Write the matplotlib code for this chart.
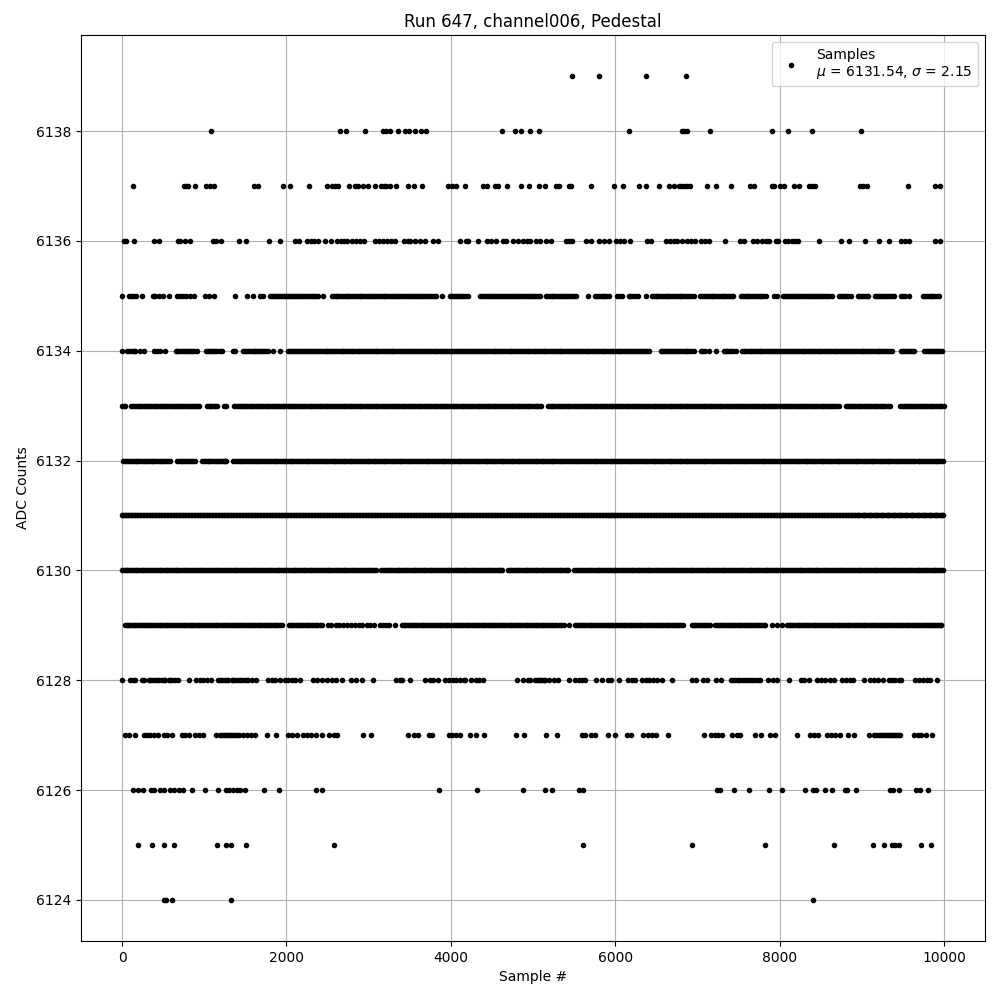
import matplotlib
matplotlib.use('Agg')
import matplotlib.pyplot as plt

# sample numbers, one list per ADC level
s6124 = [506, 538, 603, 1331, 8402]
s6125 = [190, 360, 506, 627, 1149, 1262, 1331, 1513, 2581, 5607, 6932, 7818, 8657, 9131, 9265, 9370, 9410, 9451, 9726, 9848]
s6126 = [129, 190, 255, 352, 392, 465, 506, 586, 627, 688, 740, 845, 1003, 1165, 1266, 1306, 1347, 1395, 1436, 1497,
         1731, 1913, 2358, 2427, 3855, 4316, 4874, 5150, 5231, 5563, 5607, 7235, 7276, 7442, 7624, 7871, 8025, 8304,
         8410, 8438, 8552, 8633, 8795, 8823, 8924, 9341, 9382, 9447, 9665, 9706, 9811]
s6127 = [40, 81, 162, 263, 303, 344, 384, 433, 505, 546, 607, 728, 769, 809, 890, 930, 983, 1145, 1193, 1242, 1282,
         1323, 1375, 1428, 1477, 1517, 1565, 1618, 1768, 1873, 2022, 2063, 2124, 2205, 2245, 2294, 2358, 2427, 2520,
         2581, 2617, 2933, 3030, 3479, 3548, 3600, 3730, 3774, 3976, 4017, 4057, 4106, 4231, 4312, 4401, 4793, 4886,
         5162, 5291, 5595, 5635, 5708, 5757, 5911, 5996, 6146, 6194, 6336, 6397, 6445, 6494, 6640, 7077, 7166, 7215,
         7255, 7304, 7426, 7478, 7519, 7701, 7770, 7879, 7944, 8207, 8365, 8422, 8470, 8580, 8624, 8673, 8734, 8827,
         8904, 9082, 9147, 9208, 9260, 9301, 9341, 9382, 9422, 9463, 9633, 9686, 9726, 9787, 9852,
         1212, 1262, 1302, 1345, 1402, 9168, 9235, 9280, 9321, 9362, 9402, 9443]
s6128 = [4, 101, 129, 162, 243, 271, 324, 364, 404, 445, 485, 526, 566, 607, 647, 680, 809, 902, 942, 983, 1031, 1080,
         1173, 1213, 1254, 1294, 1335, 1375, 1416, 1456, 1497, 1537, 1578, 1630, 1780, 1820, 1861, 1921, 1982, 2022,
         2063, 2103, 2164, 2326, 2366, 2427, 2496, 2548, 2601, 2670, 2791, 2852, 2920, 3054, 3337, 3378, 3410, 3503,
         3689, 3742, 3782, 3847, 3932, 3972, 4025, 4065, 4106, 4154, 4178, 4247, 4300, 4348, 4389, 4801, 4874, 4935,
         4967, 5028, 5068, 5109, 5150, 5190, 5251, 5303, 5441, 5514, 5554, 5595, 5627, 5769, 5842, 5911, 5951, 6049,
         6154, 6203, 6243, 6324, 6373, 6413, 6454, 6506, 6567, 6689, 6932, 6984, 7073, 7122, 7223, 7288, 7405, 7458,
         7519, 7580, 7640, 7701, 7762, 7855, 7924, 7964, 8110, 8260, 8300, 8357, 8450, 8503, 8552, 8612, 8665, 8754,
         8803, 8855, 8896, 9025, 9098, 9151, 9192, 9252, 9329, 9370, 9410, 9451, 9483, 9645, 9694, 9746, 9795, 9827, 9917,
         344, 425, 505, 586, 1193, 1274, 1355, 1436, 1517, 5048, 5089, 5130, 7430, 7490, 7550, 7610, 7670, 7731]
s6129 = [40, 75, 118, 160, 204, 247, 291, 333, 378, 420, 466, 509, 551, 596, 638, 683, 725, 770, 812, 856, 900, 941,
         987, 1029, 1074, 1116, 1160, 1203, 1247, 1290, 1333, 1378, 1420, 1464, 1507, 1551, 1595, 1637, 1682, 1724,
         1768, 1811, 1855, 1898, 1942, 2030, 2072, 2116, 2159, 2203, 2246, 2290, 2333, 2377, 2435, 2500, 2547, 2598,
         2641, 2692, 2741, 2790, 2835, 2880, 2925, 2978, 3020, 3070, 3135, 3178, 3212, 3244, 3317, 3406, 3448, 3492,
         3535, 3579, 3622, 3666, 3709, 3753, 3796, 3840, 3883, 3927, 3970, 4014, 4057, 4105, 4148, 4192, 4235, 4279,
         4322, 4366, 4409, 4453, 4496, 4540, 4583, 4627, 4670, 4714, 4757, 4801, 4844, 4888, 4931, 4975, 5018, 5062,
         5105, 5149, 5192, 5236, 5279, 5340, 5372, 5441, 5514, 5558, 5601, 5645, 5688, 5732, 5775, 5819, 5862, 5906,
         5949, 5993, 6036, 6080, 6123, 6167, 6210, 6254, 6297, 6341, 6384, 6428, 6471, 6515, 6558, 6602, 6645, 6689,
         6732, 6776, 6826, 6931, 6975, 7018, 7062, 7105, 7149, 7215, 7262, 7305, 7349, 7392, 7436, 7479, 7523, 7566,
         7610, 7653, 7697, 7740, 7784, 7827, 7903, 7964, 8025, 8088, 8131, 8175, 8218, 8262, 8305, 8349, 8392, 8436,
         8479, 8523, 8566, 8610, 8653, 8697, 8740, 8784, 8827, 8871, 8914, 8958, 9001, 9045, 9088, 9132, 9175, 9219,
         9262, 9306, 9349, 9393, 9436, 9480, 9523, 9567, 9610, 9654, 9697, 9741, 9784, 9828, 9871, 9915, 9958, 9969]
d6129 = [58, 97, 139, 182, 225, 269, 312, 356, 399, 443, 488, 530, 574, 617, 660, 704, 748, 791, 834, 878, 921, 964,
         1008, 1051, 1095, 1138, 1182, 1225, 1268, 1312, 1356, 1399, 1442, 1486, 1529, 1573, 1616, 1660, 1703, 1746,
         1790, 1833, 1877, 1920, 2051, 2094, 2138, 2181, 2225, 2268, 2312, 2355, 2406, 3427, 3470, 3514, 3557, 3601,
         3644, 3688, 3731, 3775, 3818, 3862, 3905, 3949, 3992, 4036, 4081, 4127, 4170, 4214, 4257, 4301, 4344, 4388,
         4431, 4475, 4518, 4562, 4605, 4649, 4692, 4736, 4779, 4823, 4866, 4910, 4953, 4997, 5040, 5084, 5127, 5171,
         5214, 5258, 5310, 5536, 5580, 5623, 5667, 5710, 5754, 5797, 5841, 5884, 5928, 5971, 6015, 6058, 6102, 6145,
         6189, 6232, 6276, 6319, 6363, 6406, 6450, 6493, 6537, 6580, 6624, 6667, 6711, 6754, 6800, 6953, 6997, 7040,
         7084, 7127, 7240, 7284, 7327, 7371, 7414, 7458, 7501, 7545, 7588, 7632, 7675, 7719, 7762, 7806, 8110, 8153,
         8197, 8240, 8284, 8327, 8371, 8414, 8458, 8501, 8545, 8588, 8632, 8675, 8719, 8762, 8806, 8849, 8893, 8936,
         8980, 9023, 9067, 9110, 9154, 9197, 9241, 9284, 9328, 9371, 9415, 9458, 9502, 9545, 9589, 9632, 9676, 9719,
         9763, 9806, 9850, 9893, 9937]
s6130 = [0, 42, 86, 129, 173, 216, 260, 303, 347, 390, 434, 477, 521, 564, 608, 651, 695, 738, 782, 825, 869, 912,
         956, 999, 1043, 1086, 1130, 1173, 1217, 1260, 1304, 1347, 1391, 1434, 1478, 1521, 1565, 1608, 1652, 1695,
         1739, 1782, 1826, 1869, 1913, 1956, 2000, 2043, 2087, 2130, 2174, 2217, 2261, 2304, 2348, 2391, 2435, 2478,
         2522, 2565, 2609, 2652, 2696, 2739, 2783, 2826, 2870, 2913, 2957, 3000, 3044, 3094, 3155, 3199, 3242, 3286,
         3329, 3373, 3416, 3460, 3503, 3547, 3590, 3634, 3677, 3721, 3764, 3808, 3851, 3895, 3938, 3982, 4025, 4069,
         4112, 4156, 4199, 4243, 4286, 4330, 4373, 4417, 4460, 4504, 4547, 4591, 4619, 4692, 4736, 4779, 4823, 4866,
         4910, 4953, 4997, 5040, 5084, 5127, 5171, 5214, 5258, 5301, 5345, 5388, 5425, 5502, 5546, 5589, 5633, 5676,
         5720, 5763, 5807, 5850, 5894, 5937, 5981, 6024, 6068, 6111, 6155, 6198, 6242, 6285, 6329, 6372, 6416, 6459,
         6503, 6546, 6590, 6633, 6677, 6720, 6764, 6807, 6851, 6894, 6938, 6981, 7025, 7068, 7112, 7155, 7199, 7242,
         7286, 7329, 7373, 7416, 7460, 7503, 7547, 7590, 7634, 7677, 7721, 7764, 7808, 7851, 7895, 7938, 7982, 8025,
         8069, 8112, 8156, 8199, 8243, 8286, 8330, 8373, 8417, 8460, 8504, 8547, 8591, 8634, 8678, 8721, 8765, 8808,
         8852, 8895, 8939, 8982, 9026, 9069, 9113, 9156, 9200, 9243, 9287, 9330, 9374, 9417, 9461, 9504, 9548, 9591,
         9635, 9678, 9722, 9765, 9809, 9852, 9896, 9939, 9983]
d6130 = [21, 64, 108, 151, 195, 238, 282, 325, 369, 412, 456, 499, 543, 586, 630, 673, 717, 760, 804, 847, 891, 934,
         978, 1021, 1065, 1108, 1152, 1195, 1239, 1282, 1326, 1369, 1413, 1456, 1500, 1543, 1587, 1630, 1674, 1717,
         1761, 1804, 1848, 1891, 1935, 1978, 2022, 2065, 2109, 2152, 2196, 2239, 2283, 2326, 2370, 2413, 2457, 2500,
         2544, 2587, 2631, 2674, 2718, 2761, 2805, 2848, 2892, 2935, 2979, 3022, 3070, 3177, 3221, 3264, 3308, 3351,
         3395, 3438, 3482, 3525, 3569, 3612, 3656, 3699, 3743, 3786, 3830, 3873, 3917, 3960, 4004, 4047, 4091, 4134,
         4178, 4221, 4265, 4308, 4352, 4395, 4439, 4482, 4526, 4569, 4606, 4714, 4758, 4801, 4845, 4888, 4932, 4975,
         5019, 5062, 5106, 5149, 5193, 5236, 5280, 5323, 5367, 5408, 5524, 5568, 5611, 5655, 5698, 5742, 5785, 5829,
         5872, 5916, 5959, 6003, 6046, 6090, 6133, 6177, 6220, 6264, 6307, 6351, 6394, 6438, 6481, 6525, 6568, 6612,
         6655, 6699, 6742, 6786, 6829, 6873, 6916, 6960, 7003, 7047, 7090, 7134, 7177, 7221, 7264, 7308, 7351, 7395,
         7438, 7482, 7525, 7569, 7612, 7656, 7699, 7743, 7786, 7830, 7873, 7917, 7960, 8004, 8047, 8091, 8134, 8178,
         8221, 8265, 8308, 8352, 8395, 8439, 8482, 8526, 8569, 8613, 8656, 8700, 8743, 8787, 8830, 8874, 8917, 8961,
         9004, 9048, 9091, 9135, 9178, 9222, 9265, 9309, 9352, 9396, 9439, 9483, 9526, 9570, 9613, 9657, 9700, 9744,
         9787, 9831, 9874, 9918, 9961]
s6131 = [0, 31, 66, 103, 139, 176, 212, 249, 285, 322, 358, 395, 431, 468, 504, 541, 577, 614, 650, 687, 723, 760,
         796, 833, 869, 906, 942, 979, 1015, 1052, 1088, 1125, 1161, 1198, 1234, 1271, 1307, 1344, 1380, 1417, 1453,
         1490, 1526, 1563, 1599, 1636, 1672, 1709, 1745, 1782, 1818, 1855, 1891, 1928, 1964, 2001, 2037, 2074, 2110,
         2147, 2183, 2220, 2256, 2293, 2329, 2366, 2402, 2439, 2475, 2512, 2548, 2585, 2621, 2658, 2694, 2731, 2767,
         2804, 2840, 2877, 2913, 2950, 2986, 3023, 3059, 3096, 3132, 3169, 3205, 3242, 3278, 3315, 3351, 3388, 3424,
         3461, 3497, 3534, 3570, 3607, 3643, 3680, 3716, 3753, 3789, 3826, 3862, 3899, 3935, 3972, 4008, 4045, 4081,
         4118, 4154, 4191, 4227, 4264, 4300, 4337, 4373, 4410, 4446, 4483, 4519, 4556, 4592, 4629, 4665, 4702, 4738,
         4775, 4811, 4848, 4884, 4921, 4957, 4994, 5030, 5067, 5103, 5140, 5176, 5213, 5249, 5286, 5322, 5359, 5395,
         5432, 5468, 5505, 5541, 5578, 5614, 5651, 5687, 5724, 5760, 5797, 5833, 5870, 5906, 5943, 5979, 6016, 6052,
         6089, 6125, 6162, 6198, 6235, 6271, 6308, 6344, 6381, 6417, 6454, 6490, 6527, 6563, 6600, 6636, 6673, 6709,
         6746, 6782, 6819, 6855, 6892, 6928, 6965, 7001, 7038, 7074, 7111, 7147, 7184, 7220, 7257, 7293, 7330, 7366,
         7403, 7439, 7476, 7512, 7549, 7585, 7622, 7658, 7695, 7731, 7768, 7804, 7841, 7877, 7914, 7950, 7987, 8023,
         8060, 8096, 8133, 8169, 8206, 8242, 8279, 8315, 8352, 8388, 8425, 8461, 8498, 8534, 8571, 8607, 8644, 8680,
         8717, 8753, 8790, 8826, 8863, 8899, 8936, 8972, 9009, 9045, 9082, 9118, 9155, 9191, 9228, 9264, 9301, 9337,
         9374, 9410, 9447, 9483, 9520, 9556, 9593, 9629, 9666, 9702, 9739, 9775, 9812, 9848, 9885, 9921, 9958, 9985]
d6131 = [15, 48, 85, 121, 158, 194, 231, 267, 304, 340, 377, 413, 450, 486, 523, 559, 596, 632, 669, 705, 742, 778,
         815, 851, 888, 924, 961, 997, 1034, 1070, 1107, 1143, 1180, 1216, 1253, 1289, 1326, 1362, 1399, 1435, 1472,
         1508, 1545, 1581, 1618, 1654, 1691, 1727, 1764, 1800, 1837, 1873, 1910, 1946, 1983, 2019, 2056, 2092, 2129,
         2165, 2202, 2238, 2275, 2311, 2348, 2384, 2421, 2457, 2494, 2530, 2567, 2603, 2640, 2676, 2713, 2749, 2786,
         2822, 2859, 2895, 2932, 2968, 3005, 3041, 3078, 3114, 3151, 3187, 3224, 3260, 3297, 3333, 3370, 3406, 3443,
         3479, 3516, 3552, 3589, 3625, 3662, 3698, 3735, 3771, 3808, 3844, 3881, 3917, 3954, 3990, 4027, 4063, 4100,
         4136, 4173, 4209, 4246, 4282, 4319, 4355, 4392, 4428, 4465, 4501, 4538, 4574, 4611, 4647, 4684, 4720, 4757,
         4793, 4830, 4866, 4903, 4939, 4976, 5012, 5049, 5085, 5122, 5158, 5195, 5231, 5268, 5304, 5341, 5377, 5414,
         5450, 5487, 5523, 5560, 5596, 5633, 5669, 5706, 5742, 5779, 5815, 5852, 5888, 5925, 5961, 5998, 6034, 6071,
         6107, 6144, 6180, 6217, 6253, 6290, 6326, 6363, 6399, 6436, 6472, 6509, 6545, 6582, 6618, 6655, 6691, 6728,
         6764, 6801, 6837, 6874, 6910, 6947, 6983, 7020, 7056, 7093, 7129, 7166, 7202, 7239, 7275, 7312, 7348, 7385,
         7421, 7458, 7494, 7531, 7567, 7604, 7640, 7677, 7713, 7750, 7786, 7823, 7859, 7896, 7932, 7969, 8005, 8042,
         8078, 8115, 8151, 8188, 8224, 8261, 8297, 8334, 8370, 8407, 8443, 8480, 8516, 8553, 8589, 8626, 8662, 8699,
         8735, 8772, 8808, 8845, 8881, 8918, 8954, 8991, 9027, 9064, 9100, 9137, 9173, 9210, 9246, 9283, 9319, 9356,
         9392, 9429, 9465, 9502, 9538, 9575, 9611, 9648, 9684, 9721, 9757, 9794, 9830, 9867, 9903, 9940, 9972]
s6132 = [12, 55, 99, 142, 186, 229, 273, 316, 360, 403, 447, 490, 534, 586, 667, 711, 754, 798, 841, 890, 975, 1019,
         1062, 1106, 1149, 1193, 1236, 1266, 1355, 1398, 1442, 1485, 1529, 1572, 1616, 1659, 1703, 1746, 1790, 1833,
         1877, 1920, 1964, 2007, 2051, 2094, 2138, 2181, 2225, 2268, 2312, 2355, 2399, 2442, 2486, 2529, 2573, 2616,
         2660, 2703, 2747, 2790, 2834, 2877, 2921, 2964, 3008, 3051, 3095, 3138, 3182, 3225, 3269, 3312, 3356, 3399,
         3443, 3486, 3530, 3573, 3617, 3660, 3704, 3747, 3791, 3834, 3878, 3921, 3965, 4008, 4052, 4095, 4139, 4182,
         4226, 4269, 4313, 4356, 4400, 4443, 4487, 4530, 4574, 4617, 4661, 4704, 4748, 4791, 4835, 4878, 4922, 4965,
         5009, 5052, 5096, 5139, 5183, 5226, 5270, 5313, 5357, 5400, 5444, 5487, 5531, 5574, 5618, 5661, 5705, 5748,
         5792, 5835, 5879, 5922, 5966, 6009, 6053, 6096, 6140, 6183, 6227, 6270, 6314, 6357, 6401, 6444, 6488, 6531,
         6575, 6618, 6662, 6705, 6749, 6792, 6836, 6879, 6923, 6966, 7010, 7053, 7097, 7140, 7184, 7227, 7271, 7314,
         7358, 7401, 7445, 7488, 7532, 7575, 7619, 7662, 7706, 7749, 7793, 7836, 7880, 7923, 7967, 8010, 8054, 8097,
         8141, 8184, 8228, 8271, 8315, 8358, 8402, 8445, 8489, 8532, 8576, 8619, 8663, 8706, 8750, 8793, 8837, 8880,
         8924, 8967, 9011, 9054, 9098, 9141, 9185, 9228, 9272, 9315, 9359, 9402, 9446, 9489, 9533, 9576, 9620, 9680,
         9724, 9767, 9811, 9854, 9898, 9941, 9985]
d6132 = [34, 77, 121, 164, 208, 251, 295, 338, 382, 425, 469, 512, 560, 689, 733, 776, 820, 866, 997, 1041, 1084, 1128,
         1171, 1215, 1250, 1377, 1420, 1464, 1507, 1551, 1594, 1638, 1681, 1725, 1768, 1812, 1855, 1899, 1942, 1986,
         2029, 2073, 2116, 2160, 2203, 2247, 2290, 2334, 2377, 2421, 2464, 2508, 2551, 2595, 2638, 2682, 2725, 2769,
         2812, 2856, 2899, 2943, 2986, 3030, 3073, 3117, 3160, 3204, 3247, 3291, 3334, 3378, 3421, 3465, 3508, 3552,
         3595, 3639, 3682, 3726, 3769, 3813, 3856, 3900, 3943, 3987, 4030, 4074, 4117, 4161, 4204, 4248, 4291, 4335,
         4378, 4422, 4465, 4509, 4552, 4596, 4639, 4683, 4726, 4770, 4813, 4857, 4900, 4944, 4987, 5031, 5074, 5118,
         5161, 5205, 5248, 5292, 5335, 5379, 5422, 5466, 5509, 5553, 5596, 5640, 5683, 5727, 5770, 5814, 5857, 5901,
         5944, 5988, 6031, 6075, 6118, 6162, 6205, 6249, 6292, 6336, 6379, 6423, 6466, 6510, 6553, 6597, 6640, 6684,
         6727, 6771, 6814, 6858, 6901, 6945, 6988, 7032, 7075, 7119, 7162, 7206, 7249, 7293, 7336, 7380, 7423, 7467,
         7510, 7554, 7597, 7641, 7684, 7728, 7771, 7815, 7858, 7902, 7945, 7989, 8032, 8076, 8119, 8163, 8206, 8250,
         8293, 8337, 8380, 8424, 8467, 8511, 8554, 8598, 8641, 8685, 8728, 8772, 8815, 8859, 8902, 8946, 8989, 9033,
         9076, 9120, 9163, 9207, 9250, 9294, 9337, 9381, 9424, 9468, 9511, 9555, 9598, 9650, 9702, 9746, 9789, 9833,
         9876, 9920, 9963]
s6133 = [0, 40, 113, 157, 200, 244, 287, 331, 374, 418, 461, 505, 548, 592, 635, 679, 722, 766, 809, 853, 896, 938,
         1031, 1075, 1118, 1153, 1234, 1266, 1367, 1411, 1454, 1498, 1541, 1585, 1628, 1672, 1715, 1759, 1802, 1846,
         1889, 1933, 1976, 2020, 2063, 2107, 2150, 2194, 2237, 2281, 2324, 2368, 2411, 2455, 2498, 2542, 2585, 2629,
         2672, 2716, 2759, 2803, 2846, 2890, 2933, 2977, 3020, 3064, 3107, 3151, 3194, 3238, 3281, 3325, 3368, 3412,
         3455, 3499, 3542, 3586, 3629, 3673, 3716, 3760, 3803, 3847, 3890, 3934, 3977, 4021, 4064, 4108, 4151, 4195,
         4238, 4282, 4325, 4369, 4412, 4456, 4499, 4543, 4586, 4630, 4673, 4717, 4760, 4804, 4847, 4891, 4934, 4978,
         5010, 5053, 5097, 5182, 5226, 5269, 5313, 5356, 5400, 5443, 5487, 5530, 5574, 5617, 5661, 5704, 5748, 5791,
         5835, 5878, 5922, 5965, 6009, 6052, 6096, 6139, 6183, 6226, 6270, 6313, 6357, 6400, 6444, 6487, 6531, 6574,
         6618, 6661, 6705, 6748, 6792, 6835, 6879, 6922, 6966, 7009, 7053, 7096, 7140, 7183, 7227, 7270, 7314, 7357,
         7401, 7444, 7488, 7531, 7575, 7618, 7662, 7705, 7749, 7792, 7836, 7879, 7923, 7966, 8010, 8053, 8097, 8140,
         8184, 8227, 8271, 8314, 8358, 8401, 8445, 8488, 8532, 8575, 8619, 8662, 8722, 8807, 8851, 8894, 8938, 8981,
         9025, 9068, 9112, 9155, 9199, 9242, 9286, 9349, 9467, 9511, 9554, 9598, 9641, 9685, 9728, 9772, 9815, 9859,
         9902, 9946, 9999]
d6133 = [20, 135, 179, 222, 266, 309, 353, 396, 440, 483, 527, 570, 614, 657, 701, 744, 788, 831, 875, 917, 1053, 1097,
         1135, 1389, 1433, 1476, 1520, 1563, 1607, 1650, 1694, 1737, 1781, 1824, 1868, 1911, 1955, 1998, 2042, 2085,
         2129, 2172, 2216, 2259, 2303, 2346, 2390, 2433, 2477, 2520, 2564, 2607, 2651, 2694, 2738, 2781, 2825, 2868,
         2912, 2955, 2999, 3042, 3086, 3129, 3173, 3216, 3260, 3303, 3347, 3390, 3434, 3477, 3521, 3564, 3608, 3651,
         3695, 3738, 3782, 3825, 3869, 3912, 3956, 3999, 4043, 4086, 4130, 4173, 4217, 4260, 4304, 4347, 4391, 4434,
         4478, 4521, 4565, 4608, 4652, 4695, 4739, 4782, 4826, 4869, 4913, 4956, 5032, 5075, 5204, 5248, 5291, 5335,
         5378, 5422, 5465, 5509, 5552, 5596, 5639, 5683, 5726, 5770, 5813, 5857, 5900, 5944, 5987, 6031, 6074, 6118,
         6161, 6205, 6248, 6292, 6335, 6379, 6422, 6466, 6509, 6553, 6596, 6640, 6683, 6727, 6770, 6814, 6857, 6901,
         6944, 6988, 7031, 7075, 7118, 7162, 7205, 7249, 7292, 7336, 7379, 7423, 7466, 7510, 7553, 7597, 7640, 7684,
         7727, 7771, 7814, 7858, 7901, 7945, 7988, 8032, 8075, 8119, 8162, 8206, 8249, 8293, 8336, 8380, 8423, 8467,
         8510, 8554, 8597, 8641, 8690, 8829, 8873, 8916, 8960, 9003, 9047, 9090, 9134, 9177, 9221, 9264, 9318, 9489,
         9533, 9576, 9620, 9663, 9707, 9750, 9794, 9837, 9881, 9924, 9968]
s6134 = [4, 61, 121, 162, 214, 263, 384, 425, 465, 518, 651, 695, 738, 782, 825, 869, 910, 1023, 1067, 1110, 1154,
         1190, 1218, 1355, 1375, 1468, 1512, 1555, 1599, 1642, 1686, 1729, 1773, 1832, 1925, 2018, 2062, 2105, 2149,
         2192, 2236, 2279, 2323, 2366, 2410, 2453, 2497, 2540, 2584, 2627, 2671, 2714, 2758, 2801, 2845, 2888, 2932,
         2975, 3019, 3062, 3106, 3149, 3193, 3236, 3280, 3323, 3367, 3410, 3454, 3497, 3541, 3584, 3628, 3671, 3715,
         3758, 3802, 3845, 3889, 3932, 3976, 4019, 4063, 4106, 4150, 4193, 4237, 4280, 4324, 4367, 4411, 4454, 4498,
         4541, 4585, 4628, 4672, 4715, 4759, 4802, 4846, 4889, 4933, 4976, 5020, 5063, 5107, 5150, 5194, 5237, 5281,
         5324, 5368, 5411, 5455, 5498, 5542, 5585, 5629, 5672, 5716, 5759, 5803, 5846, 5890, 5933, 5977, 6020, 6064,
         6107, 6151, 6194, 6238, 6281, 6325, 6368, 6413, 6551, 6595, 6638, 6682, 6725, 6769, 6812, 6856, 6899, 6960,
         7045, 7089, 7142, 7231, 7320, 7364, 7407, 7466, 7539, 7583, 7626, 7670, 7713, 7757, 7800, 7844, 7887, 7931,
         7974, 8018, 8061, 8105, 8148, 8192, 8235, 8279, 8322, 8366, 8409, 8453, 8496, 8540, 8583, 8627, 8670, 8714,
         8757, 8801, 8844, 8888, 8931, 8975, 9018, 9062, 9105, 9149, 9192, 9236, 9279, 9323, 9370, 9475, 9519, 9562,
         9606, 9637, 9758, 9802, 9845, 9889, 9932, 9977]
d6134 = [83, 145, 672, 716, 760, 804, 847, 1045, 1089, 1132, 1490, 1534, 1577, 1621, 1664, 1708, 1751, 2040, 2084,
         2127, 2171, 2214, 2258, 2301, 2345, 2388, 2432, 2475, 2519, 2562, 2606, 2649, 2693, 2736, 2780, 2823, 2867,
         2910, 2954, 2997, 3041, 3084, 3128, 3171, 3215, 3258, 3302, 3345, 3389, 3432, 3476, 3519, 3563, 3606, 3650,
         3693, 3737, 3780, 3824, 3867, 3911, 3954, 3998, 4041, 4085, 4128, 4172, 4215, 4259, 4302, 4346, 4389, 4433,
         4476, 4520, 4563, 4607, 4650, 4694, 4737, 4781, 4824, 4868, 4911, 4955, 4998, 5042, 5085, 5129, 5172, 5216,
         5259, 5303, 5346, 5390, 5433, 5477, 5520, 5564, 5607, 5651, 5694, 5738, 5781, 5825, 5868, 5912, 5955, 5999,
         6042, 6086, 6129, 6173, 6216, 6260, 6303, 6347, 6390, 6573, 6617, 6660, 6704, 6747, 6791, 6834, 6878, 6925,
         7067, 7342, 7386, 7435, 7561, 7605, 7648, 7692, 7735, 7779, 7822, 7866, 7909, 7953, 7996, 8040, 8083, 8127,
         8170, 8214, 8257, 8301, 8344, 8388, 8431, 8475, 8518, 8562, 8605, 8649, 8692, 8736, 8779, 8823, 8866, 8910,
         8953, 8997, 9040, 9084, 9127, 9171, 9214, 9258, 9301, 9345, 9497, 9541, 9584, 9780, 9824, 9867, 9911, 9955]
s6135 = [4, 81, 129, 170, 239, 372, 404, 453, 497, 570, 667, 708, 745, 775, 821, 870, 1011, 1052, 1120, 1379, 1517,
         1598, 1679, 1711, 1800, 1845, 1890, 1935, 1980, 2025, 2070, 2115, 2160, 2205, 2250, 2295, 2340, 2385, 2440,
         2552, 2597, 2642, 2687, 2732, 2777, 2822, 2867, 2912, 2957, 3002, 3047, 3092, 3137, 3182, 3227, 3272, 3317,
         3362, 3407, 3452, 3497, 3542, 3587, 3632, 3677, 3722, 3767, 3823, 3895, 3992, 4037, 4082, 4127, 4172, 4203,
         4360, 4405, 4450, 4495, 4540, 4585, 4630, 4675, 4720, 4765, 4810, 4855, 4900, 4945, 4990, 5035, 5085, 5158,
         5203, 5248, 5293, 5338, 5383, 5428, 5473, 5522, 5664, 5757, 5802, 5847, 5892, 5927, 6016, 6081, 6162, 6207,
         6271, 6377, 6445, 6490, 6535, 6580, 6625, 6670, 6715, 6760, 6805, 6850, 6895, 6960, 7037, 7082, 7127, 7172,
         7217, 7262, 7307, 7352, 7397, 7438, 7531, 7576, 7621, 7666, 7711, 7756, 7801, 7831, 7928, 7964, 8037, 8082,
         8127, 8172, 8217, 8262, 8307, 8352, 8397, 8442, 8487, 8532, 8577, 8632, 8726, 8771, 8816, 8863, 8948, 8993,
         9038, 9078, 9159, 9204, 9249, 9294, 9339, 9390, 9475, 9520, 9580, 9746, 9791, 9836, 9881, 9937]
d6135 = [103, 388, 1822, 1867, 1912, 1957, 2002, 2047, 2092, 2137, 2182, 2227, 2272, 2317, 2362, 2574, 2619, 2664,
         2709, 2754, 2799, 2844, 2889, 2934, 2979, 3024, 3069, 3114, 3159, 3204, 3249, 3294, 3339, 3384, 3429, 3474,
         3519, 3564, 3609, 3654, 3699, 3744, 3789, 4014, 4059, 4104, 4149, 4382, 4427, 4472, 4517, 4562, 4607, 4652,
         4697, 4742, 4787, 4832, 4877, 4922, 4967, 5012, 5057, 5180, 5225, 5270, 5315, 5360, 5405, 5450, 5495, 5779,
         5824, 5869, 6047, 6184, 6239, 6467, 6512, 6557, 6602, 6647, 6692, 6737, 6782, 6827, 6872, 6925, 7059, 7104,
         7149, 7194, 7239, 7284, 7329, 7374, 7418, 7553, 7598, 7643, 7688, 7733, 7778, 8059, 8104, 8149, 8194, 8239,
         8284, 8329, 8374, 8419, 8464, 8509, 8554, 8604, 8748, 8793, 8838, 8970, 9015, 9058, 9181, 9226, 9271, 9316,
         9362, 9497, 9768, 9813, 9858, 9909]
s6136 = [28, 49, 142, 384, 449, 675, 708, 769, 821, 1104, 1145, 1209, 1428, 1513, 1792, 1925, 2103, 2152, 2253, 2294,
         2334, 2387, 2467, 2536, 2617, 2658, 2702, 2738, 2799, 2844, 2892, 2941, 3082, 3127, 3175, 3224, 3276, 3317,
         3426, 3479, 3507, 3568, 3620, 3689, 3782, 3839, 4110, 4187, 4211, 4328, 4437, 4490, 4551, 4640, 4672, 4761,
         4814, 4874, 4923, 4967, 5036, 5089, 5158, 5222, 5401, 5433, 5473, 5640, 5708, 5798, 5858, 5919, 6008, 6061,
         6101, 6182, 6381, 6437, 6616, 6668, 6721, 6749, 6818, 6871, 6923, 6972, 7045, 7093, 7138, 7336, 7515, 7567,
         7681, 7721, 7782, 7831, 7871, 7952, 7985, 8065, 8106, 8147, 8187, 8228, 8475, 8742, 8839, 9033, 9204, 9325,
         9483, 9524, 9572, 9892, 9949]
s6137 = [129, 748, 781, 797, 882, 1023, 1064, 1120, 1606, 1658, 1962, 2047, 2277, 2488, 2548, 2589, 2629, 2763, 2831,
         2872, 2933, 2993, 3082, 3155, 3183, 3216, 3264, 3329, 3479, 3556, 3649, 3964, 4017, 4065, 4170, 4389, 4437,
         4542, 4571, 4680, 4850, 4947, 5073, 5150, 5283, 5320, 5433, 5465, 5704, 5984, 6093, 6288, 6373, 6530, 6660,
         6709, 6770, 6802, 6834, 6871, 6907, 7114, 7223, 7405, 7640, 7689, 7903, 7936, 8005, 8057, 8171, 8232, 8361,
         8398, 8430, 8981, 9017, 9062, 9568, 9892, 9949]
s6138 = [1076, 2657, 2722, 2957, 3175, 3216, 3264, 3357, 3446, 3491, 3560, 3640, 3701, 4623, 4777, 4854, 4967, 5073,
         6166, 6810, 6842, 6875, 7150, 7903, 8098, 8390, 8985]
s6139 = [5474, 5802, 6373, 6859]

levels = [6124, 6125, 6126, 6127, 6128, 6129, 6129, 6130, 6130, 6131, 6131, 6132, 6132, 6133, 6133, 6134, 6134,
          6135, 6135, 6136, 6137, 6138, 6139]
samples = [s6124, s6125, s6126, s6127, s6128, s6129, d6129, s6130, d6130, s6131, d6131, s6132, d6132, s6133, d6133,
           s6134, d6134, s6135, d6135, s6136, s6137, s6138, s6139]

x = []
y = []
for level, xs in zip(levels, samples):
    x += xs
    y += [level] * len(xs)

fig, ax = plt.subplots(figsize=(10, 10))
ax.plot(x, y, 'k.', label='Samples\n$\\mu$ = 6131.54, $\\sigma$ = 2.15')
ax.set_title('Run 647, channel006, Pedestal')
ax.set_xlabel('Sample #')
ax.set_ylabel('ADC Counts')
ax.grid(True)
ax.legend(loc='upper right')
fig.subplots_adjust(left=0.081, right=0.985, top=0.965, bottom=0.059)
fig.savefig('out.png', dpi=100)
